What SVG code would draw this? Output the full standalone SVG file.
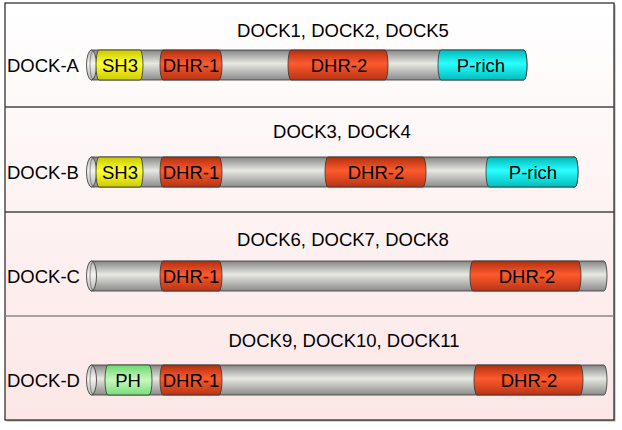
<svg xmlns="http://www.w3.org/2000/svg" width="622" height="430" viewBox="0 0 622 430">
<defs>
<linearGradient id="bg" x1="0" y1="0" x2="0" y2="1">
<stop offset="0" stop-color="#ffffff"/>
<stop offset="1" stop-color="#fce6e6"/>
</linearGradient>
<linearGradient id="gGray" x1="0" y1="0" x2="0" y2="1">
<stop offset="0" stop-color="#858585"/>
<stop offset="0.45" stop-color="#e8e8e2"/>
<stop offset="1" stop-color="#8a8a8a"/>
</linearGradient>
<linearGradient id="gCap" x1="0" y1="0" x2="0" y2="1">
<stop offset="0" stop-color="#b0b0b0"/>
<stop offset="0.45" stop-color="#f4f4f0"/>
<stop offset="1" stop-color="#b4b4b4"/>
</linearGradient>
<linearGradient id="gRed" x1="0" y1="0" x2="0" y2="1">
<stop offset="0" stop-color="#b0300f"/>
<stop offset="0.45" stop-color="#ff5a2e"/>
<stop offset="1" stop-color="#b83414"/>
</linearGradient>
<linearGradient id="gYel" x1="0" y1="0" x2="0" y2="1">
<stop offset="0" stop-color="#c8c800"/>
<stop offset="0.45" stop-color="#ffff33"/>
<stop offset="1" stop-color="#cccc00"/>
</linearGradient>
<linearGradient id="gCyan" x1="0" y1="0" x2="0" y2="1">
<stop offset="0" stop-color="#00b8b8"/>
<stop offset="0.45" stop-color="#2affff"/>
<stop offset="1" stop-color="#00bcbc"/>
</linearGradient>
<linearGradient id="gGreen" x1="0" y1="0" x2="0" y2="1">
<stop offset="0" stop-color="#6ad86a"/>
<stop offset="0.5" stop-color="#c8f8c0"/>
<stop offset="1" stop-color="#78dc78"/>
</linearGradient>
</defs>
<style>
.ln{stroke:#333;stroke-width:0.8}
.t{font-family:"Liberation Sans",Arial,sans-serif;font-size:18.5px;fill:#000}
.tm{text-anchor:middle}
.gray{fill:url(#gGray)}
.cap{fill:url(#gCap)}
.red{fill:url(#gRed)}
.yel{fill:url(#gYel)}
.cyan{fill:url(#gCyan)}
.green{fill:url(#gGreen)}
.div{stroke:#444;stroke-width:1.5;fill:none}
.in{fill:none;stroke:#555;stroke-width:0.6}
</style>

<g id="frame">
<rect x="6.5" y="4.5" width="609" height="417" fill="#aaa"/>
<rect x="5" y="3" width="609" height="417" fill="url(#bg)" stroke="#222" stroke-width="1.2"/>
<line class="div" x1="5" y1="107" x2="614" y2="107"/>
<line class="div" x1="5" y1="212" x2="614" y2="212"/>
<line x1="5" y1="316" x2="614" y2="316" stroke="#888" stroke-width="1.5"/>
</g>

<g id="dock-a">
<text class="t tm" x="343" y="37">DOCK1, DOCK2, DOCK5</text>
<text class="t" x="7" y="72">DOCK-A</text>
<path class="gray ln" d="M91,50 L524,50 A3 15 0 0 1 524,80 L91,80 Z"/>
<ellipse class="cap ln" cx="91.5" cy="65" rx="5" ry="15"/>
<path class="in" d="M93,51 A3 14 0 0 0 93,79"/>
<g id="a-sh3"><path class="yel ln" d="M99,50 L140,50 A3 15 0 0 1 140,80 L99,80 A3 15 0 0 1 99,50 Z"/><text class="t tm" x="120" y="72">SH3</text></g>
<g id="a-dhr1"><path class="red ln" d="M163,50 L219,50 A3 15 0 0 1 219,80 L163,80 A3 15 0 0 1 163,50 Z"/><text class="t tm" x="191" y="72">DHR-1</text></g>
<g id="a-dhr2"><path class="red ln" d="M291,50 L385,50 A3 15 0 0 1 385,80 L291,80 A3 15 0 0 1 291,50 Z"/><text class="t tm" x="339" y="72">DHR-2</text></g>
<g id="a-prich"><path class="cyan ln" d="M441,50 L524,50 A3 15 0 0 1 524,80 L441,80 A3 15 0 0 1 441,50 Z"/><text class="t tm" x="481" y="72">P-rich</text></g>
</g>

<g id="dock-b">
<text class="t tm" x="342" y="138">DOCK3, DOCK4</text>
<text class="t" x="7" y="179">DOCK-B</text>
<path class="gray ln" d="M91,157 L575,157 A3 15 0 0 1 575,187 L91,187 Z"/>
<ellipse class="cap ln" cx="91.5" cy="172" rx="5" ry="15"/>
<path class="in" d="M93,158 A3 14 0 0 0 93,186"/>
<g id="b-sh3"><path class="yel ln" d="M99,157 L140,157 A3 15 0 0 1 140,187 L99,187 A3 15 0 0 1 99,157 Z"/><text class="t tm" x="120" y="179">SH3</text></g>
<g id="b-dhr1"><path class="red ln" d="M163,157 L219,157 A3 15 0 0 1 219,187 L163,187 A3 15 0 0 1 163,157 Z"/><text class="t tm" x="191" y="179">DHR-1</text></g>
<g id="b-dhr2"><path class="red ln" d="M328,157 L423,157 A3 15 0 0 1 423,187 L328,187 A3 15 0 0 1 328,157 Z"/><text class="t tm" x="376" y="179">DHR-2</text></g>
<g id="b-prich"><path class="cyan ln" d="M489,157 L575,157 A3 15 0 0 1 575,187 L489,187 A3 15 0 0 1 489,157 Z"/><text class="t tm" x="533" y="179">P-rich</text></g>
</g>

<g id="dock-c">
<text class="t tm" x="343" y="246">DOCK6, DOCK7, DOCK8</text>
<text class="t" x="7" y="283">DOCK-C</text>
<path class="gray ln" d="M91,261 L604,261 A3 15 0 0 1 604,291 L91,291 Z"/>
<ellipse class="cap ln" cx="91.5" cy="276" rx="5" ry="15"/>
<path class="in" d="M93,262 A3 14 0 0 0 93,290"/>
<g id="c-dhr1"><path class="red ln" d="M163,261 L219,261 A3 15 0 0 1 219,291 L163,291 A3 15 0 0 1 163,261 Z"/><text class="t tm" x="191" y="283">DHR-1</text></g>
<g id="c-dhr2"><path class="red ln" d="M473,261 L578,261 A3 15 0 0 1 578,291 L473,291 A3 15 0 0 1 473,261 Z"/><text class="t tm" x="527" y="283">DHR-2</text></g>
</g>

<g id="dock-d">
<text class="t tm" x="344" y="347">DOCK9, DOCK10, DOCK11</text>
<text class="t" x="7" y="387">DOCK-D</text>
<path class="gray ln" d="M91,365 L604,365 A3 15 0 0 1 604,395 L91,395 Z"/>
<ellipse class="cap ln" cx="91.5" cy="380" rx="5" ry="15"/>
<path class="in" d="M93,366 A3 14 0 0 0 93,394"/>
<g id="d-ph"><path class="green ln" d="M108,365 L149,365 A3 15 0 0 1 149,395 L108,395 A3 15 0 0 1 108,365 Z"/><text class="t tm" x="128" y="387">PH</text></g>
<g id="d-dhr1"><path class="red ln" d="M163,365 L219,365 A3 15 0 0 1 219,395 L163,395 A3 15 0 0 1 163,365 Z"/><text class="t tm" x="191" y="387">DHR-1</text></g>
<g id="d-dhr2"><path class="red ln" d="M477,365 L580,365 A3 15 0 0 1 580,395 L477,395 A3 15 0 0 1 477,365 Z"/><text class="t tm" x="529" y="387">DHR-2</text></g>
</g>
</svg>
